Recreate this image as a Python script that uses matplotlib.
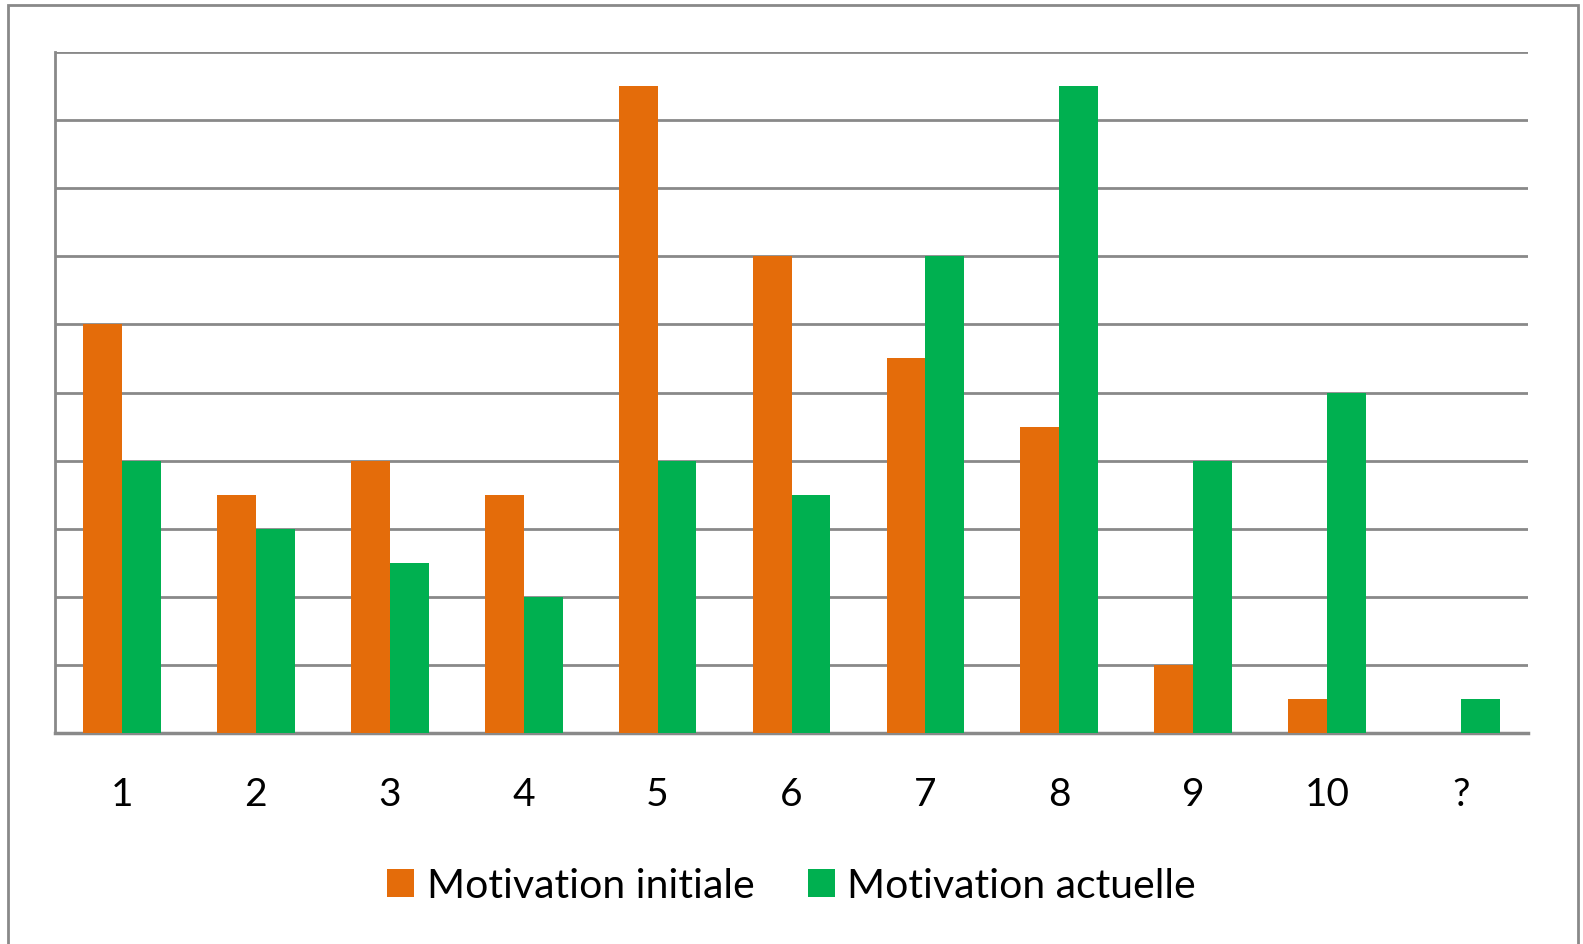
import matplotlib.pyplot as plt
import numpy as np
from matplotlib.patches import Rectangle

categories = ["1", "2", "3", "4", "5", "6", "7", "8", "9", "10", "?"]
initiale = [12, 7, 8, 7, 19, 14, 11, 9, 2, 1, 0]
actuelle = [8, 6, 5, 4, 8, 7, 14, 19, 8, 10, 1]

ORANGE = "#E46C0A"
GREEN = "#00B050"
GRID = "#898989"

plt.rcParams['font.family'] = ['Lato', 'DejaVu Sans']

fig = plt.figure(figsize=(15.83, 9.45), dpi=100)
W, H = 1583, 945
# axes in pixel coords: left 55, right 1528, top 53, bottom 734
ax = fig.add_axes([55 / W, 1 - 734 / H, (1528 - 55) / W, (734 - 53) / H])

x = np.arange(len(categories))
bw = 0.29
ax.bar(x - bw / 2, initiale, bw, color=ORANGE, label="Motivation initiale", zorder=3)
ax.bar(x + bw / 2, actuelle, bw, color=GREEN, label="Motivation actuelle", zorder=3)

ax.set_xlim(-0.5, len(categories) - 0.5)
ax.set_ylim(0, 20)
ax.set_yticks(np.arange(0, 21, 2))
ax.yaxis.grid(True, color=GRID, linewidth=2, zorder=0)
ax.set_yticklabels([])
ax.tick_params(axis='y', length=0)
ax.tick_params(axis='x', length=0, pad=31, labelsize=28)
ax.set_xticks(x)
ax.set_xticklabels(categories)

for s in ["top", "right"]:
    ax.spines[s].set_visible(False)
ax.spines["left"].set_color(GRID)
ax.spines["left"].set_linewidth(2)
ax.spines["bottom"].set_color(GRID)
ax.spines["bottom"].set_linewidth(2.5)

leg = fig.legend(loc="center", bbox_to_anchor=(0.5, 1 - 887 / H), ncol=2,
                 frameon=False, fontsize=29.5, handlelength=0.66, handleheight=0.66,
                 handletextpad=0.3, columnspacing=1.3)

# outer chart border (no bottom edge visible)
fig.patches.append(Rectangle((8 / W, -0.02), (1578 - 8) / W, 1.02 - 6 / H,
                             transform=fig.transFigure, fill=False,
                             edgecolor=GRID, linewidth=2))

fig.savefig("out.png", dpi=100)
